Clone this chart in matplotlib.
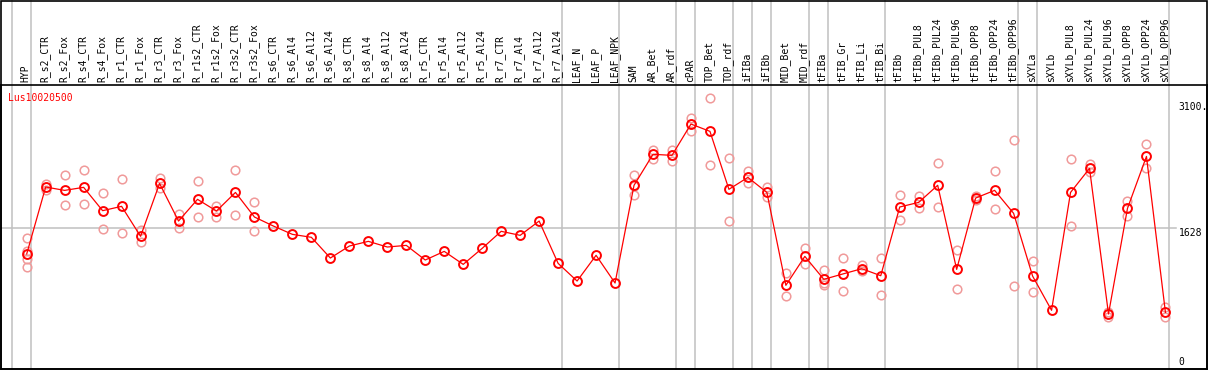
import matplotlib
matplotlib.use('Agg')
import matplotlib.pyplot as plt
import matplotlib.transforms as mtransforms

plt.rcParams['font.family'] = ['DejaVu Sans Mono']

# 样本名称
categories = ['HYP', 'R_s2_CTR', 'R_s2_Fox', 'R_s4_CTR', 'R_s4_Fox', 'R_r1_CTR', 'R_r1_Fox',
              'R_r3_CTR', 'R_r3_Fox', 'R_r1s2_CTR', 'R_r1s2_Fox', 'R_r3s2_CTR', 'R_r3s2_Fox',
              'R_s6_CTR', 'R_s6_Al4', 'R_s6_Al12', 'R_s6_Al24', 'R_s8_CTR', 'R_s8_Al4',
              'R_s8_Al12', 'R_s8_Al24', 'R_r5_CTR', 'R_r5_Al4', 'R_r5_Al12', 'R_r5_Al24',
              'R_r7_CTR', 'R_r7_Al4', 'R_r7_Al12', 'R_r7_Al24', 'LEAF_N', 'LEAF_P', 'LEAF_NPK',
              'SAM', 'AR_Bet', 'AR_rdf', 'cPAR', 'TOP_Bet', 'TOP_rdf', 'iFIBa', 'iFIBb',
              'MID_Bet', 'MID_rdf', 'tFIBa', 'tFIB_Gr', 'tFIB_Li', 'tFIB_Bi', 'tFIBb',
              'tFIBb_PUL8', 'tFIBb_PUL24', 'tFIBb_PUL96', 'tFIBb_OPP8', 'tFIBb_OPP24',
              'tFIBb_OPP96', 'sXYLa', 'sXYLb', 'sXYLb_PUL8', 'sXYLb_PUL24', 'sXYLb_PUL96',
              'sXYLb_OPP8', 'sXYLb_OPP24', 'sXYLb_OPP96']

# 平均值
means = [1314, 2129, 2088, 2125, 1841, 1894, 1529, 2172, 1715, 1979, 1837, 2063, 1764,
         1654, 1553, 1517, 1265, 1411, 1468, 1399, 1419, 1241, 1346, 1188, 1383,
         1590, 1541, 1715, 1200, 985, 1298, 961,
         2150, 2527, 2514, 2895, 2806, 2101, 2246, 2063, 933, 1285,
         1006, 1071, 1135, 1050, 1886, 1942, 2150, 1127, 1995, 2088, 1809,
         1046, 629, 2063, 2355, 584, 1869, 2501, 604]

# 重复样本的值
reps = [[1505, 1354, 1249, 1152], [2165, 2095], [2271, 1906], [2332, 1918], [2052, 1618],
        [2221, 1565], [1600, 1456], [2242, 2112], [1805, 1626], [2208, 1760], [1898, 1768],
        [2342, 1784], [1942, 1588],
        [], [], [], [], [], [], [], [], [], [], [], [], [], [], [], [], [], [], [],
        [2271, 2140, 2036], [2579, 2474], [2579, 2450], [2964, 2814], [3207, 2393],
        [2478, 1711], [2324, 2181], [2129, 2007], [1079, 799], [1383, 1188],
        [1119, 935, 965], [1261, 864], [1184, 1111], [1261, 811], [2027, 1723],
        [2015, 1869], [2416, 1882], [1366, 888], [2019, 1971], [2320, 1861], [2697, 921],
        [1229, 852], [], [2470, 1654], [2412, 2307], [604, 543], [1959, 1776],
        [2647, 2360], [669, 547]]

# 分组的最后一个样本
group_ends = [-1, 0, 28, 31, 34, 35, 37, 38, 39, 41, 42, 45, 52, 53, 60]

gene = 'Lus10020500'
y_labels = ['3100.', '1628', '0']
y_label_vals = [3100, 1628, 0]

W, H = 1209, 370
fig = plt.figure(figsize=(W / 100, H / 100), dpi=100)
ax = fig.add_axes([1 / W, 1 / H, 1206 / W, 284 / H])
ax.set_xlim(-1.354, 62.19)
ax.set_ylim(-85, 3370)
ax.set_xticks([])
ax.set_yticks([])
for s in ax.spines.values():
    s.set_linewidth(1.2)
    s.set_color('black')

head = 1 + 85 / 284

# 分组的灰色竖线
for g in group_ends:
    ax.axvline(g + 0.21, ymin=0, ymax=head, color='#c0c0c0', lw=1.1,
               clip_on=False, zorder=1)
ax.plot([-1.354, 60.55], [1628, 1628], color='#c0c0c0', lw=1.1, zorder=1)

# 表头标签
trans = mtransforms.blended_transform_factory(ax.transData, ax.transAxes)
for i, name in enumerate(categories):
    ax.text(i - 0.05, 1 + 3 / 284, name, rotation=90, ha='center', va='bottom',
            fontsize=7, transform=trans, clip_on=False)

x = list(range(len(categories)))

# 重复点
for i, r in enumerate(reps):
    ax.plot([i] * len(r), r, 'o', mfc='none', mec='#f09a9a', ms=6.2, mew=1.1, zorder=2)

ax.plot(x, means, '-', color='red', lw=0.9, zorder=3)
ax.plot(x, means, 'o', mfc='none', mec='red', ms=6.4, mew=1.4, zorder=4)

ax.text(0.006, 0.955, gene, color='red', fontsize=7, transform=ax.transAxes,
        ha='left', va='center')

for lab, v in zip(y_labels, y_label_vals):
    va = 'top' if lab == '1628' else 'center'
    ax.text(0.9765, v, lab, transform=trans if False else
            mtransforms.blended_transform_factory(ax.transAxes, ax.transData),
            fontsize=7, ha='left', va=va)

# 图的外框
fig.add_artist(plt.Rectangle((1 / W, 1 / H), 1206 / W, 368.5 / H, fill=False,
                             ec='black', lw=1.2, transform=fig.transFigure))

fig.savefig('out.png', dpi=100)
